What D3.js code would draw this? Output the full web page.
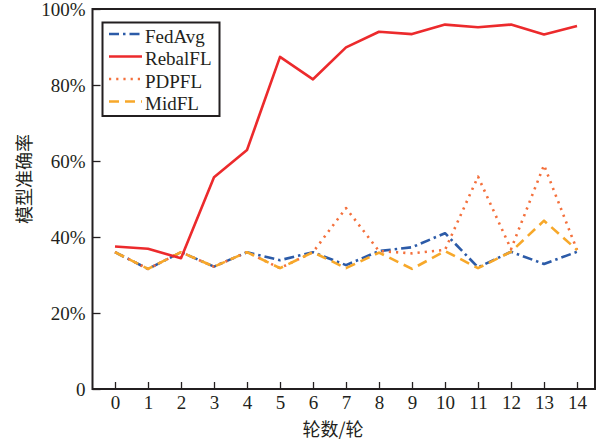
<!DOCTYPE html>
<html>
<head>
<meta charset="utf-8">
<script src="https://cdn.jsdelivr.net/npm/d3@7"></script>
<style>
  html, body { margin: 0; padding: 0; background: #fff; }
  svg text { fill: #231f20; }
</style>
</head>
<body>
<svg id="chart" width="603" height="441"></svg>
<script>
// Training rounds and model accuracy per method
const rounds = d3.range(0, 15);
const fedAvg  = [0.360, 0.316, 0.360, 0.322, 0.360, 0.339, 0.360, 0.326, 0.363, 0.373, 0.410, 0.320, 0.361, 0.329, 0.361];
const rebalFL = [0.375, 0.369, 0.344, 0.557, 0.629, 0.874, 0.815, 0.899, 0.940, 0.934, 0.959, 0.952, 0.959, 0.933, 0.955];
const pdpFL   = [0.360, 0.316, 0.360, 0.322, 0.360, 0.318, 0.360, 0.476, 0.363, 0.357, 0.366, 0.559, 0.368, 0.589, 0.366];
const midFL   = [0.360, 0.316, 0.360, 0.322, 0.360, 0.318, 0.360, 0.318, 0.359, 0.316, 0.363, 0.318, 0.361, 0.443, 0.366];
const yTicks = [0, 0.2, 0.4, 0.6, 0.8, 1.0];
const seriesNames = ["FedAvg", "RebalFL", "PDPFL", "MidFL"];

const styles = {
  FedAvg:  { color: "#2c5ba8", dash: "10,4,2.5,4", width: 2.6 },
  RebalFL: { color: "#ec2a2c", dash: null,         width: 2.6 },
  PDPFL:   { color: "#f4703c", dash: "2.2,5",      width: 2.6 },
  MidFL:   { color: "#f7a82a", dash: "10,6",       width: 2.6 }
};
const values = { FedAvg: fedAvg, RebalFL: rebalFL, PDPFL: pdpFL, MidFL: midFL };

const svg = d3.select("#chart");
const plotL = 92.5, plotR = 595, plotT = 9, plotB = 389;

const x = d3.scaleLinear().domain([-0.682, 14.545]).range([plotL, plotR]);
const y = d3.scaleLinear().domain([0, 1]).range([plotB, plotT]);

const serif = "'Liberation Serif', 'Times New Roman', serif";
const cjk = "'Noto Sans CJK SC', sans-serif";

// Axes with inward ticks
const yAxis = d3.axisLeft(y).tickValues(yTicks)
  .tickFormat(d => d === 0 ? "0" : Math.round(d * 100) + "%")
  .tickSize(-8).tickPadding(6);
const xAxis = d3.axisBottom(x).tickValues(rounds)
  .tickFormat(d3.format("d")).tickSize(-7).tickPadding(7);

const gy = svg.append("g").attr("transform", `translate(${plotL},0)`).call(yAxis);
const gx = svg.append("g").attr("transform", `translate(0,${plotB})`).call(xAxis);
[gx, gy].forEach(g => {
  g.select(".domain").remove();
  g.selectAll(".tick line").attr("stroke", "#231f20").attr("stroke-width", 1.3);
  g.selectAll(".tick text").attr("font-family", serif).attr("font-size", 19).attr("fill", "#231f20");
});
gy.selectAll(".tick text").attr("dx", "-1");

// Series lines
const line = d3.line().x((d, i) => x(rounds[i])).y(d => y(d));
["FedAvg", "PDPFL", "MidFL", "RebalFL"].forEach(name => {
  const s = styles[name];
  svg.append("path")
    .datum(values[name])
    .attr("d", line)
    .attr("fill", "none")
    .attr("stroke", s.color)
    .attr("stroke-width", s.width)
    .attr("stroke-linejoin", "round")
    .attr("stroke-dasharray", s.dash);
});

// Plot frame
svg.append("rect")
  .attr("x", plotL).attr("y", plotT)
  .attr("width", plotR - plotL).attr("height", plotB - plotT)
  .attr("fill", "none").attr("stroke", "#231f20").attr("stroke-width", 2);

// Legend
const lg = svg.append("g");
lg.append("rect")
  .attr("x", 102.5).attr("y", 22.5).attr("width", 117).attr("height", 93.5)
  .attr("fill", "#fff").attr("stroke", "#231f20").attr("stroke-width", 2);
const rowY = [36, 58.5, 81, 103.5];
seriesNames.forEach((name, i) => {
  const s = styles[name];
  lg.append("line")
    .attr("x1", 109).attr("x2", 142)
    .attr("y1", rowY[i] - 2).attr("y2", rowY[i] - 2)
    .attr("stroke", s.color).attr("stroke-width", s.width)
    .attr("stroke-dasharray", s.dash);
  lg.append("text")
    .attr("x", 145).attr("y", rowY[i])
    .attr("dy", "0.35em")
    .attr("font-family", serif).attr("font-size", 19)
    .text(name);
});

// Axis titles
svg.append("text")
  .attr("x", 333).attr("y", 430)
  .attr("text-anchor", "middle").attr("dy", "0.35em")
  .attr("font-family", cjk).attr("font-size", 18)
  .text("轮数/轮");

svg.append("text")
  .attr("transform", "translate(25,179) rotate(-90)")
  .attr("text-anchor", "middle").attr("dy", "0.35em")
  .attr("font-family", cjk).attr("font-size", 18)
  .text("模型准确率");
</script>
</body>
</html>
